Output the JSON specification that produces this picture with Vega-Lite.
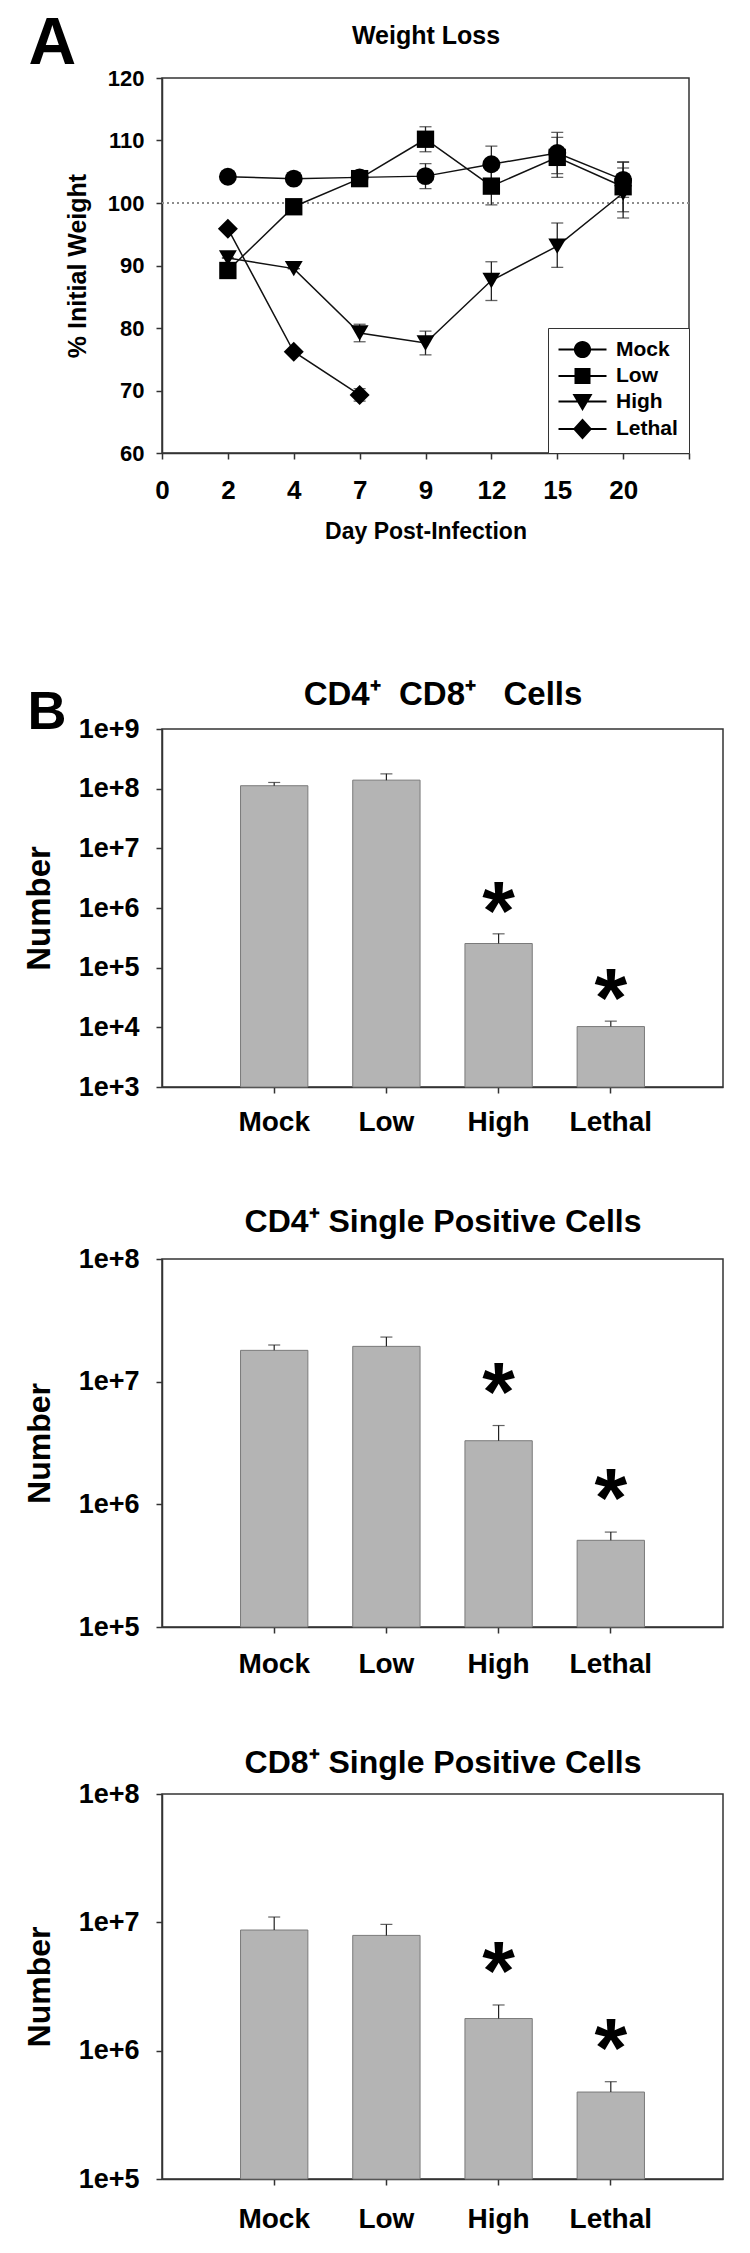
{
  "$schema": "https://vega.github.io/schema/vega-lite/v6.json",
  "background": "white",
  "padding": {"left": 22, "top": 9, "right": 5, "bottom": 5},
  "spacing": 132,
  "resolve": {"legend": {"shape": "independent"}},
  "config": {
    "font": "Liberation Sans",
    "view": {"stroke": "#333333", "strokeWidth": 1.5},
    "axis": {"grid": false, "labelFontWeight": "bold", "titleFontWeight": "bold", "labelColor": "#000000", "titleColor": "#000000", "domainColor": "#333333", "domainWidth": 1.5, "tickColor": "#333333", "tickWidth": 1.5, "labelAngle": 0, "labelFlush": false, "labelOverlap": false}
  },
  "datasets": {
    "weight": [
      {"group": "Mock", "day": 2, "w": 104.2, "lo": 104.2, "hi": 104.2},
      {"group": "Mock", "day": 4, "w": 103.9, "lo": 103.9, "hi": 103.9},
      {"group": "Mock", "day": 7, "w": 104.1, "lo": 103.6, "hi": 104.6},
      {"group": "Mock", "day": 9, "w": 104.3, "lo": 102.3, "hi": 106.3},
      {"group": "Mock", "day": 12, "w": 106.2, "lo": 103.2, "hi": 109.1},
      {"group": "Mock", "day": 15, "w": 108.0, "lo": 104.7, "hi": 111.3},
      {"group": "Mock", "day": 20, "w": 103.7, "lo": 100.9, "hi": 106.5},
      {"group": "Low", "day": 2, "w": 89.2, "lo": 89.2, "hi": 89.2},
      {"group": "Low", "day": 4, "w": 99.4, "lo": 99.4, "hi": 99.4},
      {"group": "Low", "day": 7, "w": 103.9, "lo": 103.4, "hi": 104.4},
      {"group": "Low", "day": 9, "w": 110.2, "lo": 108.2, "hi": 112.2},
      {"group": "Low", "day": 12, "w": 102.7, "lo": 99.7, "hi": 105.7},
      {"group": "Low", "day": 15, "w": 107.3, "lo": 104.1, "hi": 110.5},
      {"group": "Low", "day": 20, "w": 102.6, "lo": 98.6, "hi": 106.6},
      {"group": "High", "day": 2, "w": 91.2, "lo": 91.2, "hi": 91.2},
      {"group": "High", "day": 4, "w": 89.5, "lo": 89.5, "hi": 89.5},
      {"group": "High", "day": 7, "w": 79.2, "lo": 77.8, "hi": 80.6},
      {"group": "High", "day": 9, "w": 77.6, "lo": 75.7, "hi": 79.5},
      {"group": "High", "day": 12, "w": 87.6, "lo": 84.4, "hi": 90.6},
      {"group": "High", "day": 15, "w": 93.1, "lo": 89.7, "hi": 96.8},
      {"group": "High", "day": 20, "w": 101.6, "lo": 97.6, "hi": 105.6},
      {"group": "Lethal", "day": 2, "w": 95.9, "lo": 95.9, "hi": 95.9},
      {"group": "Lethal", "day": 4, "w": 76.2, "lo": 76.2, "hi": 76.2},
      {"group": "Lethal", "day": 7, "w": 69.3, "lo": 68.3, "hi": 70.3}
    ],
    "cd4cd8": [
      {"group": "Mock", "n": 112000000, "hi": 127000000, "sig": false},
      {"group": "Low", "n": 139000000, "hi": 177000000, "sig": false},
      {"group": "High", "n": 254000, "hi": 369000, "sig": true},
      {"group": "Lethal", "n": 10300, "hi": 12700, "sig": true}
    ],
    "cd4": [
      {"group": "Mock", "n": 18000000, "hi": 19900000, "sig": false},
      {"group": "Low", "n": 19400000, "hi": 23100000, "sig": false},
      {"group": "High", "n": 3300000, "hi": 4390000, "sig": true},
      {"group": "Lethal", "n": 509000, "hi": 594000, "sig": true}
    ],
    "cd8": [
      {"group": "Mock", "n": 8710000, "hi": 11000000, "sig": false},
      {"group": "Low", "n": 7910000, "hi": 9640000, "sig": false},
      {"group": "High", "n": 1780000, "hi": 2270000, "sig": true},
      {"group": "Lethal", "n": 476000, "hi": 573000, "sig": true}
    ]
  },
  "vconcat": [
    {
      "width": 527,
      "height": 375,
      "data": {"name": "weight"},
      "layer": [
        {
          "mark": {"type": "rule", "color": "#8c8c8c", "strokeDash": [2, 3], "strokeWidth": 1.2},
          "encoding": {"y": {"datum": 100, "type": "quantitative", "scale": {"domain": [60, 120], "nice": false, "zero": false}, "axis": null}}
        },
        {
          "mark": {"type": "rule", "color": "#222222", "strokeWidth": 1.3},
          "encoding": {
            "x": {"field": "day", "type": "ordinal", "scale": {"type": "point", "domain": [0, 2, 4, 7, 9, 12, 15, 20, ""], "padding": 0},
                  "axis": {"orient": "top", "title": "Weight Loss", "titleFontSize": 25, "titlePadding": 30, "labels": false, "ticks": false, "domain": false, "minExtent": 0}},
            "y": {"field": "lo", "type": "quantitative", "scale": {"domain": [60, 120], "nice": false, "zero": false},
                  "axis": {"orient": "right", "title": "A", "titleFontSize": 66, "titleAngle": 0, "titleAlign": "left", "titleBaseline": "alphabetic", "titleX": -661, "titleY": -15, "labels": false, "ticks": false, "domain": false, "minExtent": 0}},
            "y2": {"field": "hi"}
          }
        },
        {
          "mark": {"type": "tick", "color": "#222222", "thickness": 1.3, "size": 12},
          "encoding": {
            "x": {"field": "day", "type": "ordinal", "scale": {"type": "point", "domain": [0, 2, 4, 7, 9, 12, 15, 20, ""], "padding": 0}, "axis": null},
            "y": {"field": "hi", "type": "quantitative", "scale": {"domain": [60, 120], "nice": false, "zero": false}, "axis": null}
          }
        },
        {
          "mark": {"type": "tick", "color": "#222222", "thickness": 1.3, "size": 12},
          "encoding": {
            "x": {"field": "day", "type": "ordinal", "scale": {"type": "point", "domain": [0, 2, 4, 7, 9, 12, 15, 20, ""], "padding": 0}, "axis": null},
            "y": {"field": "lo", "type": "quantitative", "scale": {"domain": [60, 120], "nice": false, "zero": false}, "axis": null}
          }
        },
        {
          "mark": {"type": "line", "color": "#111111", "strokeWidth": 1.5},
          "encoding": {
            "x": {"field": "day", "type": "ordinal", "scale": {"type": "point", "domain": [0, 2, 4, 7, 9, 12, 15, 20, ""], "padding": 0},
                  "axis": {"orient": "bottom", "title": "Day Post-Infection", "titleFontSize": 23, "titlePadding": 17.3, "labelFontSize": 26, "labelPadding": 18, "tickSize": 6}},
            "y": {"field": "w", "type": "quantitative", "scale": {"domain": [60, 120], "nice": false, "zero": false},
                  "axis": {"orient": "left", "values": [60, 70, 80, 90, 100, 110, 120], "title": "% Initial Weight", "titleFontSize": 25, "titlePadding": 16.8, "labelFontSize": 22, "labelPadding": 12, "tickSize": 6}},
            "detail": {"field": "group", "type": "nominal"}
          }
        },
        {
          "transform": [{"filter": "datum.group === 'Mock'"}],
          "mark": {"type": "point", "shape": "circle", "filled": true, "color": "#000000", "size": 320, "opacity": 1},
          "encoding": {
            "x": {"field": "day", "type": "ordinal", "scale": {"type": "point", "domain": [0, 2, 4, 7, 9, 12, 15, 20, ""], "padding": 0}, "axis": null},
            "y": {"field": "w", "type": "quantitative", "scale": {"domain": [60, 120], "nice": false, "zero": false}, "axis": null}
          }
        },
        {
          "transform": [{"filter": "datum.group === 'Low'"}],
          "mark": {"type": "point", "shape": "square", "filled": true, "color": "#000000", "size": 300, "opacity": 1},
          "encoding": {
            "x": {"field": "day", "type": "ordinal", "scale": {"type": "point", "domain": [0, 2, 4, 7, 9, 12, 15, 20, ""], "padding": 0}, "axis": null},
            "y": {"field": "w", "type": "quantitative", "scale": {"domain": [60, 120], "nice": false, "zero": false}, "axis": null}
          }
        },
        {
          "transform": [{"filter": "datum.group === 'High'"}],
          "mark": {"type": "point", "shape": "triangle-down", "filled": true, "color": "#000000", "size": 320, "opacity": 1},
          "encoding": {
            "x": {"field": "day", "type": "ordinal", "scale": {"type": "point", "domain": [0, 2, 4, 7, 9, 12, 15, 20, ""], "padding": 0}, "axis": null},
            "y": {"field": "w", "type": "quantitative", "scale": {"domain": [60, 120], "nice": false, "zero": false}, "axis": null}
          }
        },
        {
          "transform": [{"filter": "datum.group === 'Lethal'"}],
          "mark": {"type": "point", "shape": "diamond", "filled": true, "color": "#000000", "size": 400, "opacity": 1},
          "encoding": {
            "x": {"field": "day", "type": "ordinal", "scale": {"type": "point", "domain": [0, 2, 4, 7, 9, 12, 15, 20, ""], "padding": 0}, "axis": null},
            "y": {"field": "w", "type": "quantitative", "scale": {"domain": [60, 120], "nice": false, "zero": false}, "axis": null}
          }
        },
        {
          "mark": {"type": "point", "filled": false, "fill": "#000000", "stroke": "#000000", "strokeWidth": 1.5, "opacity": 0},
          "encoding": {
            "x": {"field": "day", "type": "ordinal", "scale": {"type": "point", "domain": [0, 2, 4, 7, 9, 12, 15, 20, ""], "padding": 0}, "axis": null},
            "y": {"field": "w", "type": "quantitative", "scale": {"domain": [60, 120], "nice": false, "zero": false}, "axis": null},
            "shape": {
              "field": "group", "type": "nominal",
              "scale": {"domain": ["Mock", "Low", "High", "Lethal"],
                        "range": [
                          "M-1.1,-0.1H3.7V0.1H-1.1ZM2.16,0A0.86,0.86,0,1,1,0.44,0A0.86,0.86,0,1,1,2.16,0Z",
                          "M-1.1,-0.1H3.7V0.1H-1.1ZM0.5,-0.8H2.1V0.8H0.5Z",
                          "M-1.1,-0.1H3.7V0.1H-1.1ZM0.3,-0.75H2.3L1.3,0.95Z",
                          "M-1.1,-0.1H3.7V0.1H-1.1ZM1.3,-1.05L2.25,0L1.3,1.05L0.35,0Z"
                        ]},
              "legend": {
                "title": null, "orient": "bottom-right", "offset": 0, "padding": 11,
                "strokeColor": "#333333", "fillColor": "#ffffff",
                "labelFontSize": 21, "labelFontWeight": "bold", "labelColor": "#000000", "labelOffset": 36,
                "rowPadding": 3.5, "symbolSize": 400, "symbolStrokeWidth": 1,
                "symbolOpacity": 1, "symbolFillColor": "#000000", "symbolStrokeColor": "#000000"
              }
            }
          }
        }
      ],
      "resolve": {"axis": {"x": "independent", "y": "independent"}}
    },
    {
      "spacing": 66,
      "vconcat": [
        {
          "width": 561,
          "height": 358,
          "data": {"name": "cd4cd8"},
          "layer": [
            {
              "mark": {"type": "bar", "fill": "#b4b4b4", "stroke": "#7a7a7a", "strokeWidth": 1},
              "encoding": {
                "x": {"field": "group", "type": "nominal", "scale": {"type": "band", "domain": ["Mock", "Low", "High", "Lethal"], "paddingInner": 0.4, "paddingOuter": 0.7},
                      "axis": {"orient": "bottom", "title": "B", "titleFontSize": 54, "titleAngle": 0, "titleAlign": "left", "titleBaseline": "alphabetic", "titleX": -135, "titleY": -359, "labelFontSize": 28, "labelPadding": 15.9, "tickSize": 6}},
                "y": {"field": "n", "type": "quantitative", "scale": {"type": "log", "domain": [1000, 1000000000], "nice": false},
                      "axis": {"values": [1000, 10000, 100000, 1000000, 10000000, 100000000, 1000000000], "format": ".0e", "labelFontSize": 27, "labelPadding": 17, "tickSize": 6, "title": "Number", "titleFontSize": 33, "titlePadding": 21.2}},
                "y2": {"datum": 1000}
              }
            },
            {
              "mark": {"type": "rule", "color": "#222222", "strokeWidth": 1.2},
              "encoding": {
                "x": {"field": "group", "type": "nominal", "scale": {"type": "band", "domain": ["Mock", "Low", "High", "Lethal"], "paddingInner": 0.4, "paddingOuter": 0.7},
                      "axis": {"orient": "top", "title": "CD4⁺\u00a0\u00a0CD8⁺\u00a0\u00a0\u00a0Cells", "titleFontSize": 33, "titlePadding": 17.8, "labels": false, "ticks": false, "domain": false, "minExtent": 0}},
                "y": {"field": "n", "type": "quantitative", "scale": {"type": "log", "domain": [1000, 1000000000], "nice": false}, "axis": null},
                "y2": {"field": "hi"}
              }
            },
            {
              "mark": {"type": "tick", "color": "#222222", "thickness": 1.2, "size": 12},
              "encoding": {
                "x": {"field": "group", "type": "nominal", "scale": {"type": "band", "domain": ["Mock", "Low", "High", "Lethal"], "paddingInner": 0.4, "paddingOuter": 0.7}, "axis": null},
                "y": {"field": "hi", "type": "quantitative", "scale": {"type": "log", "domain": [1000, 1000000000], "nice": false}, "axis": null}
              }
            },
            {
              "transform": [{"filter": "datum.sig"}],
              "mark": {"type": "text", "text": "*", "fontSize": 84, "fontWeight": "bold", "baseline": "alphabetic", "align": "center", "dy": 6, "color": "#000000"},
              "encoding": {
                "x": {"field": "group", "type": "nominal", "scale": {"type": "band", "domain": ["Mock", "Low", "High", "Lethal"], "paddingInner": 0.4, "paddingOuter": 0.7}, "axis": null},
                "y": {"field": "hi", "type": "quantitative", "scale": {"type": "log", "domain": [1000, 1000000000], "nice": false}, "axis": null}
              }
            }
          ],
          "resolve": {"axis": {"x": "independent", "y": "independent"}}
        },
        {
          "width": 561,
          "height": 368,
          "data": {"name": "cd4"},
          "layer": [
            {
              "mark": {"type": "bar", "fill": "#b4b4b4", "stroke": "#7a7a7a", "strokeWidth": 1},
              "encoding": {
                "x": {"field": "group", "type": "nominal", "scale": {"type": "band", "domain": ["Mock", "Low", "High", "Lethal"], "paddingInner": 0.4, "paddingOuter": 0.7},
                      "axis": {"orient": "bottom", "title": null, "labelFontSize": 28, "labelPadding": 17.9, "tickSize": 6}},
                "y": {"field": "n", "type": "quantitative", "scale": {"type": "log", "domain": [100000, 100000000], "nice": false},
                      "axis": {"values": [100000, 1000000, 10000000, 100000000], "format": ".0e", "labelFontSize": 27, "labelPadding": 17, "tickSize": 6, "title": "Number", "titleFontSize": 32, "titlePadding": 21.8}},
                "y2": {"datum": 100000}
              }
            },
            {
              "mark": {"type": "rule", "color": "#222222", "strokeWidth": 1.2},
              "encoding": {
                "x": {"field": "group", "type": "nominal", "scale": {"type": "band", "domain": ["Mock", "Low", "High", "Lethal"], "paddingInner": 0.4, "paddingOuter": 0.7},
                      "axis": {"orient": "top", "title": "CD4⁺ Single Positive Cells", "titleFontSize": 32, "titlePadding": 21, "labels": false, "ticks": false, "domain": false, "minExtent": 0}},
                "y": {"field": "n", "type": "quantitative", "scale": {"type": "log", "domain": [100000, 100000000], "nice": false}, "axis": null},
                "y2": {"field": "hi"}
              }
            },
            {
              "mark": {"type": "tick", "color": "#222222", "thickness": 1.2, "size": 12},
              "encoding": {
                "x": {"field": "group", "type": "nominal", "scale": {"type": "band", "domain": ["Mock", "Low", "High", "Lethal"], "paddingInner": 0.4, "paddingOuter": 0.7}, "axis": null},
                "y": {"field": "hi", "type": "quantitative", "scale": {"type": "log", "domain": [100000, 100000000], "nice": false}, "axis": null}
              }
            },
            {
              "transform": [{"filter": "datum.sig"}],
              "mark": {"type": "text", "text": "*", "fontSize": 84, "fontWeight": "bold", "baseline": "alphabetic", "align": "center", "dy": -5, "color": "#000000"},
              "encoding": {
                "x": {"field": "group", "type": "nominal", "scale": {"type": "band", "domain": ["Mock", "Low", "High", "Lethal"], "paddingInner": 0.4, "paddingOuter": 0.7}, "axis": null},
                "y": {"field": "hi", "type": "quantitative", "scale": {"type": "log", "domain": [100000, 100000000], "nice": false}, "axis": null}
              }
            }
          ],
          "resolve": {"axis": {"x": "independent", "y": "independent"}}
        },
        {
          "width": 561,
          "height": 385,
          "data": {"name": "cd8"},
          "layer": [
            {
              "mark": {"type": "bar", "fill": "#b4b4b4", "stroke": "#7a7a7a", "strokeWidth": 1},
              "encoding": {
                "x": {"field": "group", "type": "nominal", "scale": {"type": "band", "domain": ["Mock", "Low", "High", "Lethal"], "paddingInner": 0.4, "paddingOuter": 0.7},
                      "axis": {"orient": "bottom", "title": null, "labelFontSize": 28, "labelPadding": 20.9, "tickSize": 6}},
                "y": {"field": "n", "type": "quantitative", "scale": {"type": "log", "domain": [100000, 100000000], "nice": false},
                      "axis": {"values": [100000, 1000000, 10000000, 100000000], "format": ".0e", "labelFontSize": 27, "labelPadding": 17, "tickSize": 6, "title": "Number", "titleFontSize": 32, "titlePadding": 21.8}},
                "y2": {"datum": 100000}
              }
            },
            {
              "mark": {"type": "rule", "color": "#222222", "strokeWidth": 1.2},
              "encoding": {
                "x": {"field": "group", "type": "nominal", "scale": {"type": "band", "domain": ["Mock", "Low", "High", "Lethal"], "paddingInner": 0.4, "paddingOuter": 0.7},
                      "axis": {"orient": "top", "title": "CD8⁺ Single Positive Cells", "titleFontSize": 32, "titlePadding": 14.1, "labels": false, "ticks": false, "domain": false, "minExtent": 0}},
                "y": {"field": "n", "type": "quantitative", "scale": {"type": "log", "domain": [100000, 100000000], "nice": false}, "axis": null},
                "y2": {"field": "hi"}
              }
            },
            {
              "mark": {"type": "tick", "color": "#222222", "thickness": 1.2, "size": 12},
              "encoding": {
                "x": {"field": "group", "type": "nominal", "scale": {"type": "band", "domain": ["Mock", "Low", "High", "Lethal"], "paddingInner": 0.4, "paddingOuter": 0.7}, "axis": null},
                "y": {"field": "hi", "type": "quantitative", "scale": {"type": "log", "domain": [100000, 100000000], "nice": false}, "axis": null}
              }
            },
            {
              "transform": [{"filter": "datum.sig"}],
              "mark": {"type": "text", "text": "*", "fontSize": 84, "fontWeight": "bold", "baseline": "alphabetic", "align": "center", "dy": -5, "color": "#000000"},
              "encoding": {
                "x": {"field": "group", "type": "nominal", "scale": {"type": "band", "domain": ["Mock", "Low", "High", "Lethal"], "paddingInner": 0.4, "paddingOuter": 0.7}, "axis": null},
                "y": {"field": "hi", "type": "quantitative", "scale": {"type": "log", "domain": [100000, 100000000], "nice": false}, "axis": null}
              }
            }
          ],
          "resolve": {"axis": {"x": "independent", "y": "independent"}}
        }
      ]
    }
  ]
}
